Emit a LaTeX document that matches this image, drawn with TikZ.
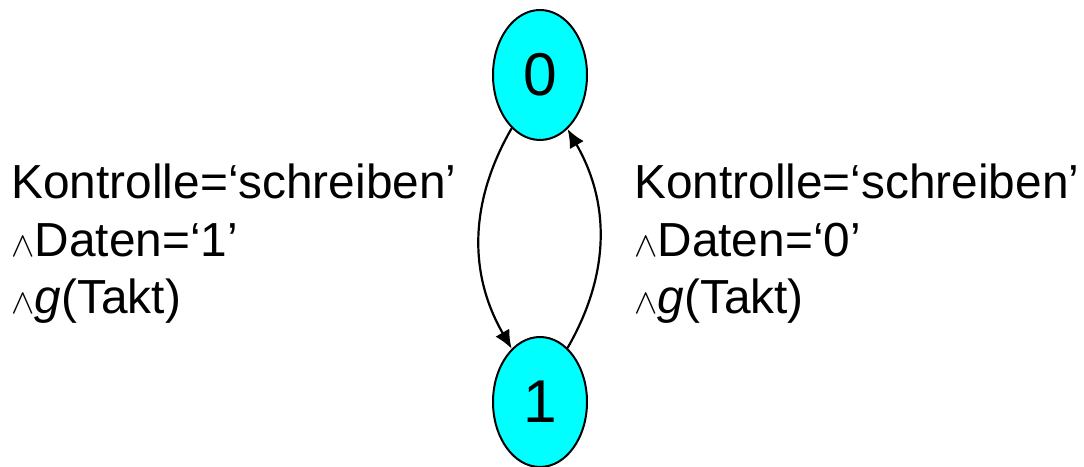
\documentclass[tikz,border=0pt]{standalone}
\usepackage{fontspec}
\setmainfont{Liberation Sans}
\usetikzlibrary{arrows.meta,shapes.geometric}

\definecolor{statecyan}{RGB}{0,255,255}
\def\colorstate{statecyan}
\def\wedgesym{$\scriptstyle\wedge$}

\begin{document}
\begin{tikzpicture}[state/.style={ellipse,draw,line width=0.05cm,fill=\colorstate,
    minimum width=2.35cm,minimum height=3.25cm,inner sep=0pt,
    font=\fontsize{43}{43}\selectfont},
  labelsty/.style={anchor=base west,inner sep=0pt,align=left,
    font=\fontsize{34}{41}\selectfont},
  trans/.style={line width=0.055cm,-{Latex[length=0.46cm,width=0.4cm]}}]
  \useasboundingbox (0,0) rectangle (27.1,11.675);

  \node[state] (z0) at (13.5,9.8) {0};
  \node[state] (z1) at (13.5,1.625) {1};

  \draw[trans] (z0.242) to[bend right=30] (z1.118);
  \draw[trans] (z1.63) to[bend right=30] (z0.297);

  % base anchor sits on the last line
  \node[labelsty] (t01) at (0.28,3.825)
    {Kontrolle=‘schreiben’\\\wedgesym Daten=‘1’\\\wedgesym\textit{g}(Takt)};
  \node[labelsty] (t10) at (15.85,3.825)
    {Kontrolle=‘schreiben’\\\wedgesym Daten=‘0’\\\wedgesym\textit{g}(Takt)};
\end{tikzpicture}
\end{document}
